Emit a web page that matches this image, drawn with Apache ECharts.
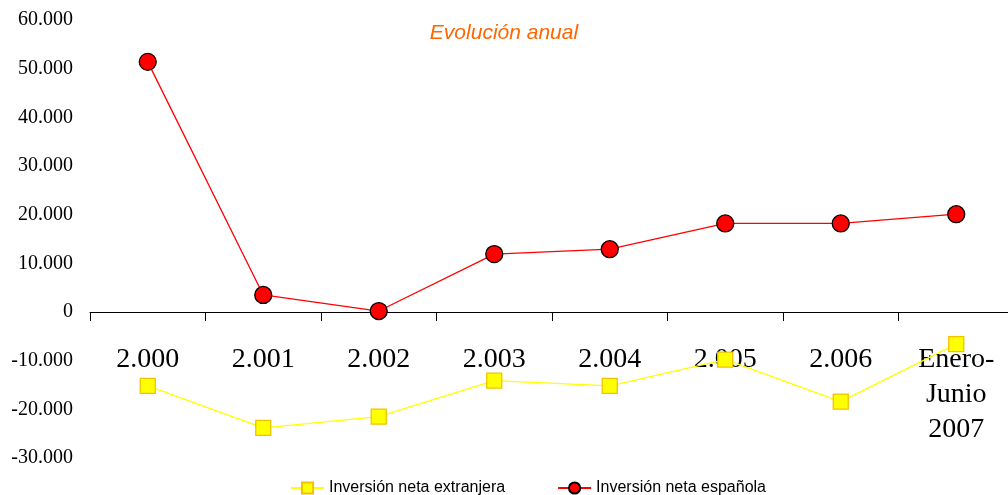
<!DOCTYPE html>
<html>
<head>
<meta charset="utf-8">
<script src="https://cdn.jsdelivr.net/npm/echarts@6/dist/echarts.min.js"></script>
<style>
  html, body { margin: 0; padding: 0; background: #fff; }
  #chart { width: 1008px; height: 495px; }
</style>
</head>
<body>
<div id="chart"></div>
<script>
// categorias (años)
var categories = ['2.000', '2.001', '2.002', '2.003', '2.004', '2.005', '2.006', 'Enero-\nJunio\n2007'];
// Inversión neta extranjera
var extranjera = [-15200, -23800, -21500, -14100, -15200, -9800, -18400, -6600];
// Inversión neta española
var espanola = [51400, 3500, 200, 11900, 12900, 18200, 18200, 20100];
// ticks eje Y
var yMin = -30000, yMax = 60000, yStep = 10000;

function fmtMiles(v) {
  var s = Math.abs(v).toString().replace(/\B(?=(\d{3})+(?!\d))/g, '.');
  return (v < 0 ? '-' : '') + s;
}

// el eje X va en el 0: se sube desde el borde inferior del grid
var gridTop = 20, gridBottom = 37, alto = 495;
var altoGrid = alto - gridTop - gridBottom;
var offsetCero = -altoGrid * (-yMin) / (yMax - yMin);

var myChart = echarts.init(document.getElementById('chart'));
myChart.setOption({
  animation: false,
  backgroundColor: '#fff',
  title: {
    text: 'Evolución anual',
    left: 'center',
    top: 18,
    textStyle: { color: '#FF6600', fontStyle: 'italic', fontWeight: 'normal', fontSize: 21, fontFamily: 'Liberation Sans' }
  },
  legend: {
    top: 475,
    left: 285,
    itemWidth: 33,
    itemHeight: 14,
    itemGap: 52,
    textStyle: { fontSize: 16, color: '#000', fontFamily: 'Liberation Sans' },
    data: ['Inversión neta extranjera', 'Inversión neta española']
  },
  grid: { left: 90, right: -6, top: gridTop, bottom: gridBottom, containLabel: false, outerBoundsMode: 'none' },
  xAxis: {
    type: 'category',
    data: categories,
    boundaryGap: true,
    offset: offsetCero,
    axisLine: { onZero: false, lineStyle: { color: '#000', width: 1 } },
    axisTick: { show: true, length: 9, lineStyle: { color: '#000' } },
    axisLabel: {
      margin: 30, fontSize: 28, color: '#000', fontFamily: 'Liberation Serif',
      lineHeight: 35, interval: 0, hideOverlap: false
    },
    splitLine: { show: false }
  },
  yAxis: {
    type: 'value',
    min: yMin, max: yMax, interval: yStep,
    axisLine: { show: false },
    axisTick: { show: false },
    splitLine: { show: false },
    axisLabel: {
      margin: 17, fontSize: 20, color: '#000', fontFamily: 'Liberation Serif',
      formatter: fmtMiles
    }
  },
  series: [
    {
      name: 'Inversión neta extranjera',
      type: 'line',
      data: extranjera,
      symbol: 'rect',
      symbolSize: 15,
      z: 5,
      lineStyle: { color: '#FFFF00', width: 1.3 },
      itemStyle: { color: '#FFFF00', borderColor: '#F2C200', borderWidth: 1.3 }
    },
    {
      name: 'Inversión neta española',
      type: 'line',
      data: espanola,
      symbol: 'circle',
      symbolSize: 17,
      z: 6,
      lineStyle: { color: '#FF0000', width: 1.3 },
      itemStyle: { color: '#FF0000', borderColor: '#000', borderWidth: 1.3 }
    }
  ]
});
</script>
</body>
</html>
